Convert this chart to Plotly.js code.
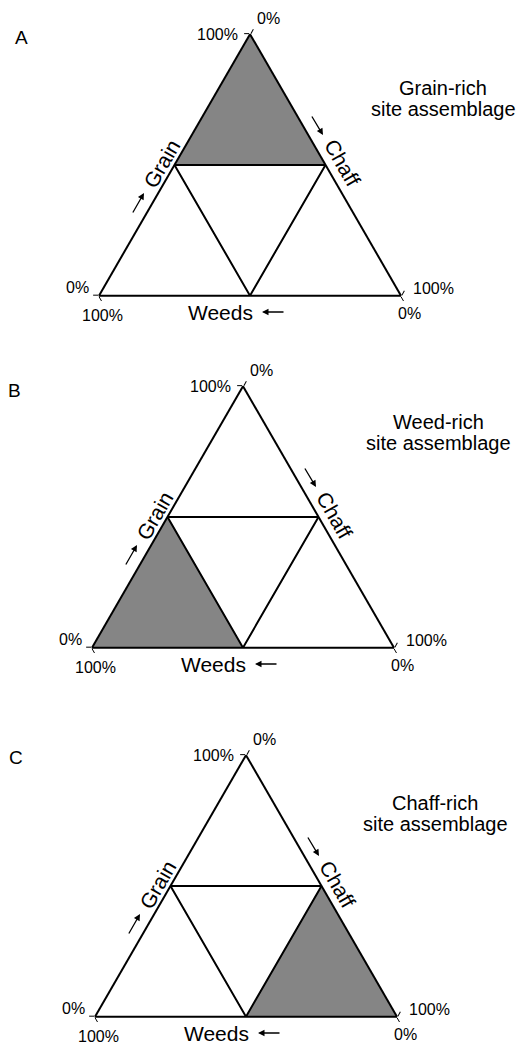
<!DOCTYPE html>
<html>
<head>
<meta charset="utf-8">
<script src="https://cdn.plot.ly/plotly-3.0.1.min.js"></script>
<style>html,body{margin:0;padding:0;background:#fff;}#chart{width:520px;height:1044px;}</style>
</head>
<body>
<div id="chart"></div>
<script>
// ---- data (ternary percentages: a = Grain, b = Weeds, c = Chaff) ----
const panelLetters = ['A', 'B', 'C'];
const panelTitles = [['Grain-rich', 'site assemblage'], ['Weed-rich', 'site assemblage'], ['Chaff-rich', 'site assemblage']];
const componentNames = ['Grain', 'Weeds', 'Chaff'];
const tickValues = [0, 100];
const tickSuffix = '%';

// inner (medial) triangle joining the 50% points of each edge
const medialGrain = [50, 50, 0, 50];
const medialWeeds = [50, 0, 50, 50];
const medialChaff = [0, 50, 50, 0];

// shaded "rich" zone of each panel
const grainRichGrain = [100, 50, 50, 100];
const grainRichWeeds = [0, 50, 0, 0];
const grainRichChaff = [0, 0, 50, 0];

const weedRichGrain = [0, 50, 0, 0];
const weedRichWeeds = [100, 50, 50, 100];
const weedRichChaff = [0, 0, 50, 0];

const chaffRichGrain = [0, 50, 0, 0];
const chaffRichWeeds = [0, 0, 50, 0];
const chaffRichChaff = [100, 50, 50, 100];

const shaded = [
  [grainRichGrain, grainRichWeeds, grainRichChaff],
  [weedRichGrain, weedRichWeeds, weedRichChaff],
  [chaffRichGrain, chaffRichWeeds, chaffRichChaff]
];

// ---- layout geometry (pixels) ----
const W = 520, H = 1044;
const SIDE = 300;
const TRI_H = SIDE * Math.sqrt(3) / 2;
const apexes = [[250, 35], [243, 387], [246, 756]];
const letterPos = [[21, 38], [14, 390], [16, 757]];
const sidePos = [[443, 88, 109], [438, 422, 443], [435, 803, 824]];

const FONT = 'Liberation Sans, Arial, Helvetica, sans-serif';
const FILL = '#858585';
const px = x => x / W;
const py = y => 1 - y / H;

const traces = [];
const layout = {
  width: W, height: H,
  margin: {l: 0, r: 0, t: 0, b: 0},
  paper_bgcolor: '#fff',
  showlegend: false,
  font: {family: FONT, color: '#000', size: 16},
  annotations: []
};

function axisDef() {
  return {
    min: 0,
    showgrid: false,
    linecolor: '#000',
    linewidth: 2,
    ticks: 'outside',
    ticklen: 5,
    tickwidth: 1,
    tickcolor: '#000',
    tickmode: 'array',
    tickvals: tickValues,
    showticklabels: false,
    title: {text: ''}
  };
}

const lbl = v => v + tickSuffix;

for (let i = 0; i < 3; i++) {
  const sub = i === 0 ? 'ternary' : 'ternary' + (i + 1);
  const [ax0, ay0] = apexes[i];
  const cx = ax0, cy = ay0 + TRI_H / 2;
  const hx = SIDE / 2 + 1, hy = TRI_H / 2 + 4;
  layout[sub] = {
    sum: 100,
    bgcolor: '#fff',
    domain: {x: [px(cx - hx), px(cx + hx)], y: [py(cy + hy), py(cy - hy)]},
    aaxis: axisDef(),
    baxis: axisDef(),
    caxis: axisDef()
  };

  traces.push({
    type: 'scatterternary', subplot: sub, mode: 'lines',
    a: shaded[i][0], b: shaded[i][1], c: shaded[i][2],
    fill: 'toself', fillcolor: FILL,
    line: {color: FILL, width: 0}, hoverinfo: 'skip'
  });
  traces.push({
    type: 'scatterternary', subplot: sub, mode: 'lines',
    a: medialGrain, b: medialWeeds, c: medialChaff,
    line: {color: '#000', width: 2}, hoverinfo: 'skip'
  });

  const A = layout.annotations;
  const rel = (dx, dy) => ({x: px(ax0 + dx), y: py(ay0 + dy), xref: 'paper', yref: 'paper'});
  // corner percentage labels (Grain on left edge, Weeds on bottom, Chaff on right edge)
  const corner = (dx, dy, v) => A.push(Object.assign(rel(dx, dy), {text: lbl(v), showarrow: false,
    font: {size: 16}, xanchor: 'center', yanchor: 'middle'}));
  corner(-33, -1, tickValues[1]);   // Grain 100% at apex
  corner(18, -17, tickValues[0]);   // Chaff 0% at apex
  corner(-173, 252, tickValues[0]); // Grain 0% bottom-left
  corner(-148, 280, tickValues[1]); // Weeds 100% bottom-left
  corner(183, 253, tickValues[1]);  // Chaff 100% bottom-right
  corner(159, 278, tickValues[0]);  // Weeds 0% bottom-right
  // axis names
  A.push(Object.assign(rel(-89, 129), {text: componentNames[0], showarrow: false, textangle: -60,
    font: {size: 21}, xanchor: 'center', yanchor: 'middle'}));
  A.push(Object.assign(rel(92, 128), {text: componentNames[2], showarrow: false, textangle: 60,
    font: {size: 21}, xanchor: 'center', yanchor: 'middle'}));
  A.push(Object.assign(rel(-30, 277), {text: componentNames[1], showarrow: false,
    font: {size: 21}, xanchor: 'center', yanchor: 'middle'}));
  // direction arrows
  A.push(Object.assign(rel(-106, 158), {text: '', showarrow: true, ax: -12, ay: 21,
    arrowhead: 2, arrowsize: 1, arrowwidth: 1.3, arrowcolor: '#000'}));
  A.push(Object.assign(rel(73, 100), {text: '', showarrow: true, ax: -12, ay: -20,
    arrowhead: 2, arrowsize: 1, arrowwidth: 1.3, arrowcolor: '#000'}));
  A.push(Object.assign(rel(12, 277), {text: '', showarrow: true, ax: 23, ay: 0,
    arrowhead: 2, arrowsize: 1, arrowwidth: 1.3, arrowcolor: '#000'}));
  // panel letter
  A.push({x: px(letterPos[i][0]), y: py(letterPos[i][1]), xref: 'paper', yref: 'paper',
    text: panelLetters[i], showarrow: false, font: {size: 19}, xanchor: 'center', yanchor: 'middle'});
  // side description
  A.push({x: px(sidePos[i][0]), y: py(sidePos[i][1]), xref: 'paper', yref: 'paper',
    text: panelTitles[i][0], showarrow: false, font: {size: 20}, xanchor: 'center', yanchor: 'middle'});
  A.push({x: px(sidePos[i][0]), y: py(sidePos[i][2]), xref: 'paper', yref: 'paper',
    text: panelTitles[i][1], showarrow: false, font: {size: 20}, xanchor: 'center', yanchor: 'middle'});
}

Plotly.newPlot('chart', traces, layout, {displayModeBar: false, staticPlot: true});
</script>
</body>
</html>
